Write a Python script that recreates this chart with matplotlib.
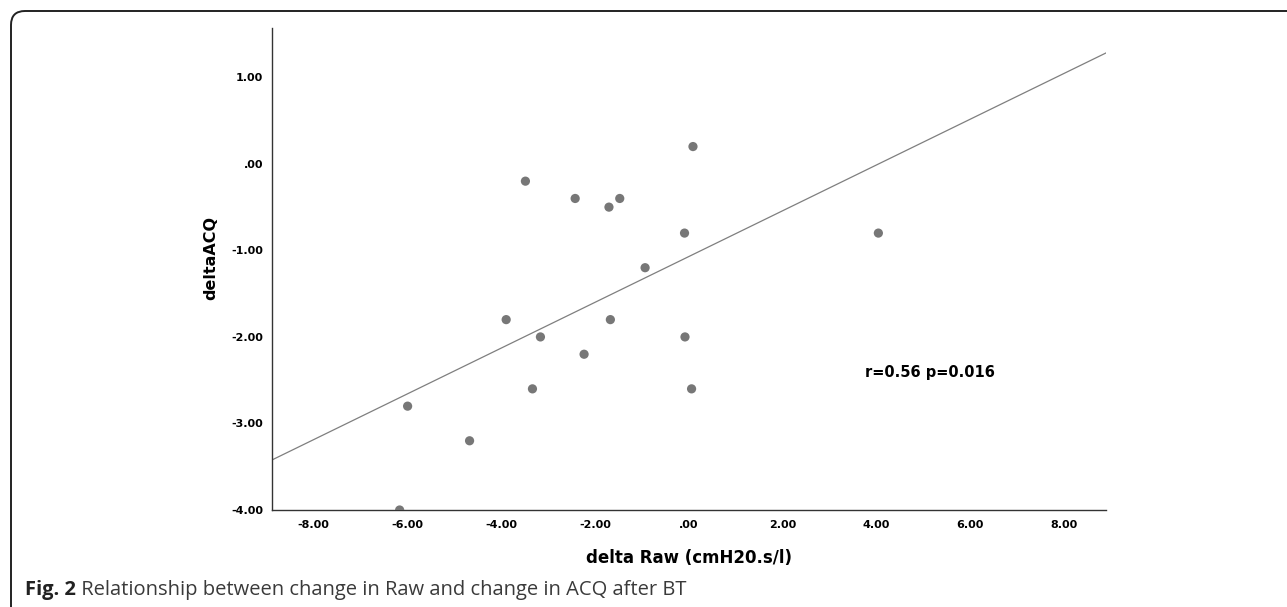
import numpy as np
import matplotlib.pyplot as plt
from matplotlib.patches import FancyBboxPatch
from matplotlib.transforms import IdentityTransform

# values (delta Raw vs delta ACQ)
delta_raw = [0.09, -3.48, -2.42, -1.47, -1.70, -0.09, -0.93, -3.89, -1.67,
             -3.16, -0.08, -2.23, -3.33, 0.06, -5.99, -4.67, -6.16, 4.04]
delta_acq = [0.2, -0.2, -0.4, -0.4, -0.5, -0.8, -1.2, -1.8, -1.8,
             -2.0, -2.0, -2.2, -2.6, -2.6, -2.8, -3.2, -4.0, -0.8]

x_ticks = [-8, -6, -4, -2, 0, 2, 4, 6, 8]
y_ticks = [1, 0, -1, -2, -3, -4]
stats_text = "r=0.56 p=0.016"
caption_bold = "Fig. 2"
caption_rest = " Relationship between change in Raw and change in ACQ after BT"

CHART_FONT = 'DejaVu Sans'


def spss_fmt(v):
    # SPSS style: ".00" for zero, no leading zero
    s = f"{v:.2f}"
    if s in ("0.00", "-0.00"):
        return ".00"
    return s


W, H = 1287, 607
fig = plt.figure(figsize=(W / 100, H / 100), dpi=100)
ax = fig.add_axes([271.5 / W, 1 - 510 / H, (1106 - 271.5) / W, (510 - 28) / H])

xmin, xmax = -8.89, 8.89
ax.set_xlim(xmin, xmax)
ax.set_ylim(-4.0, 1.57)

x = np.array(delta_raw)
y = np.array(delta_acq)
ax.scatter(x, y, s=44, color='#777777', edgecolors='none', zorder=3)

# linear fit over the full x range
slope, intercept = np.polyfit(x, y, 1)
xs = np.array([xmin, xmax])
ax.plot(xs, intercept + slope * xs, color='#7f7f7f', lw=0.9)

ax.text(865 / W, 1 - 373 / H, stats_text, transform=fig.transFigure,
        fontsize=10.5, fontweight='bold', family=CHART_FONT,
        ha='left', va='center')

for side in ('top', 'right'):
    ax.spines[side].set_visible(False)
for side in ('left', 'bottom'):
    ax.spines[side].set_color('#333333')
    ax.spines[side].set_linewidth(1.0)

ax.set_xticks(x_ticks)
ax.set_xticklabels([spss_fmt(v) for v in x_ticks])
ax.set_yticks(y_ticks)
ax.set_yticklabels([spss_fmt(v) for v in y_ticks])
ax.tick_params(length=0, labelsize=8, pad=7)
ax.tick_params(axis='y', pad=6)
for lab in ax.get_xticklabels() + ax.get_yticklabels():
    lab.set_fontweight('bold')
    lab.set_family(CHART_FONT)

ax.set_xlabel("delta Raw (cmH20.s/l)", fontsize=12, fontweight='bold',
              family=CHART_FONT, labelpad=14)
ax.set_ylabel("deltaACQ", fontsize=11.5, fontweight='bold',
              family=CHART_FONT)
ax.yaxis.set_label_coords(-0.064, 0.523)

# caption below the chart
t1 = fig.text(25 / W, 1 - 600 / H, caption_bold, fontsize=14.5,
              fontweight='bold', family='Open Sans', color='#222222',
              va='bottom', ha='left')
ax.annotate(caption_rest, xy=(1, 0), xycoords=t1, fontsize=14.5,
            family='Open Sans', color='#3a3a3a', va='bottom', ha='left',
            annotation_clip=False)

# rounded frame, cut off at right and bottom
frame = FancyBboxPatch((11, -40), W + 40, (H - 11) + 40,
                       boxstyle="round,pad=0,rounding_size=14",
                       transform=IdentityTransform(), fill=False,
                       edgecolor='#222222', linewidth=1.4)
fig.patches.append(frame)

fig.savefig('out.png', dpi=100)
